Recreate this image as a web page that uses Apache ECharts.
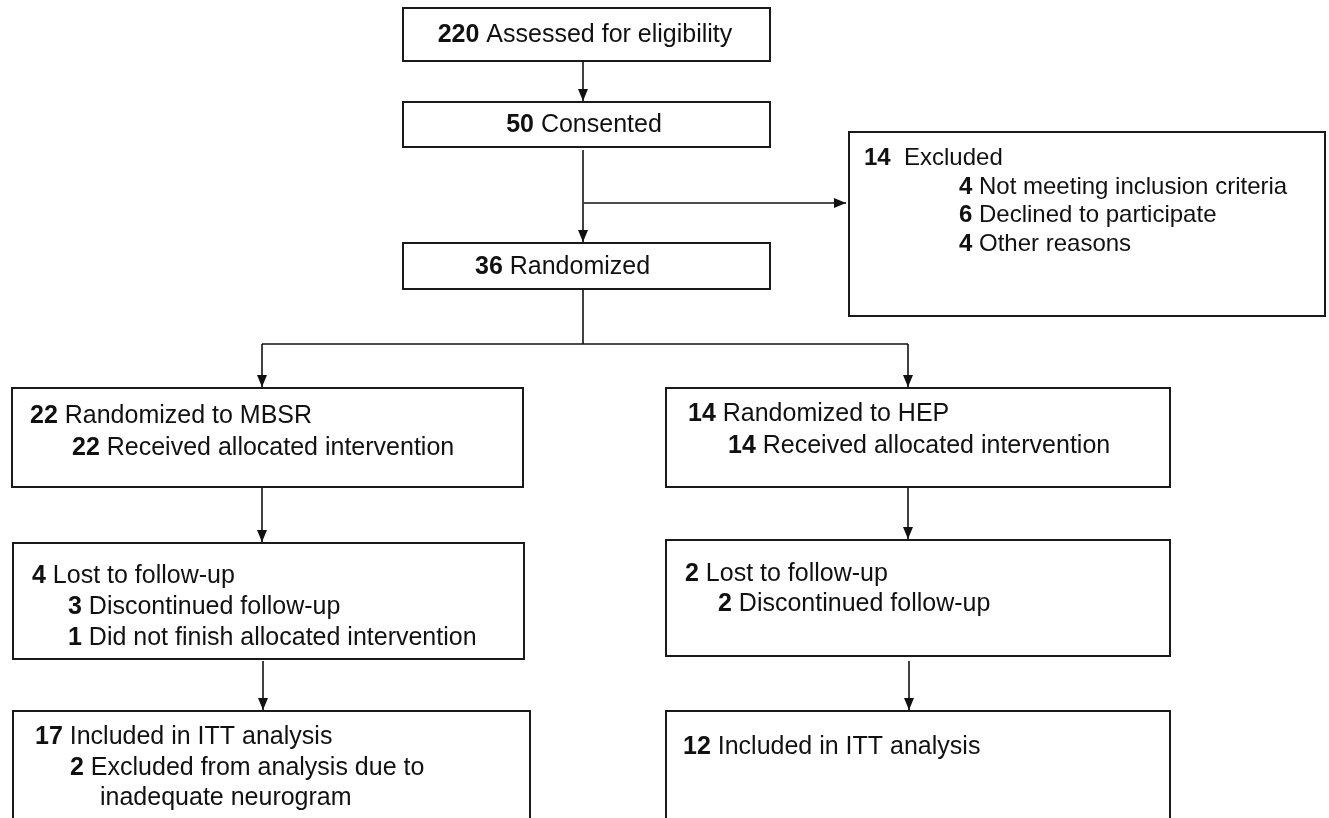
<!DOCTYPE html>
<html>
<head>
<meta charset="utf-8">
<title>Participant flow</title>
<script src="https://cdn.jsdelivr.net/npm/echarts@6/dist/echarts.min.js"></script>
<style>
  html, body { margin: 0; padding: 0; background: #fff; }
  #chart { width: 1329px; height: 818px; }
</style>
</head>
<body>
<div id="chart"></div>
<script>
// counts and labels shown in the flow diagram
const lineCounts = [220, 50, 36, 14, 4, 6, 4, 22, 22, 14, 14, 4, 3, 1, 2, 2, 17, 2, null, 12];
const lineTexts = [
  'Assessed for eligibility', 'Consented', 'Randomized',
  ' Excluded', 'Not meeting inclusion criteria', 'Declined to participate', 'Other reasons',
  'Randomized to MBSR', 'Received allocated intervention',
  'Randomized to HEP', 'Received allocated intervention',
  'Lost to follow-up', 'Discontinued follow-up', 'Did not finish allocated intervention',
  'Lost to follow-up', 'Discontinued follow-up',
  'Included in ITT analysis', 'Excluded from analysis due to', 'inadequate neurogram',
  'Included in ITT analysis'
];

// layout (diagram units = pixels of the 1329x818 page): x, y, align, font size
const linePos = [
  [585, 35, 'center', 25], [584, 125, 'center', 25], [475, 267, 'left', 25],
  [864, 158, 'left', 24], [959, 187, 'left', 24], [959, 215, 'left', 24], [959, 244, 'left', 24],
  [30, 416, 'left', 25], [72, 448, 'left', 25],
  [688, 414, 'left', 25], [728, 446, 'left', 25],
  [32, 576, 'left', 25], [68, 607, 'left', 25], [68, 638, 'left', 25],
  [685, 574, 'left', 25], [718, 604, 'left', 25],
  [35, 737, 'left', 25], [70, 768, 'left', 25], [100, 798, 'left', 25],
  [683, 747, 'left', 25]
];
const boxes = [
  [403, 8, 770, 61], [403, 102, 770, 147], [403, 243, 770, 289],
  [849, 132, 1325, 316],
  [12, 388, 523, 487], [666, 388, 1170, 487],
  [13, 543, 524, 659], [666, 540, 1170, 656],
  [13, 711, 530, 830], [666, 711, 1170, 830]
];
const arrows = [
  { pts: [[583, 61], [583, 101]], head: true },
  { pts: [[583, 150], [583, 242]], head: true },
  { pts: [[584, 203], [846, 203]], head: true },
  { pts: [[583, 290], [583, 344]], head: false },
  { pts: [[262, 344], [908, 344]], head: false },
  { pts: [[262, 344], [262, 387]], head: true },
  { pts: [[908, 344], [908, 387]], head: true },
  { pts: [[262, 488], [262, 542]], head: true },
  { pts: [[908, 488], [908, 539]], head: true },
  { pts: [[263, 661], [263, 710]], head: true },
  { pts: [[909, 661], [909, 710]], head: true }
];

const FONT = '"Liberation Sans", Arial, sans-serif';
const INK = '#111';

const chart = echarts.init(document.getElementById('chart'));

chart.setOption({
  animation: false,
  grid: { left: 0, right: 0, top: 0, bottom: 0 },
  xAxis: { type: 'value', min: 0, max: 1329, show: false },
  yAxis: { type: 'value', min: 0, max: 818, inverse: true, show: false },
  series: [
    {
      // boxes
      type: 'custom',
      data: boxes.map((b, i) => [i]),
      clip: false,
      silent: true,
      renderItem: (params, api) => {
        const b = boxes[api.value(0)];
        const p0 = api.coord([b[0], b[1]]);
        const p1 = api.coord([b[2], b[3]]);
        return {
          type: 'rect',
          shape: { x: p0[0], y: p0[1], width: p1[0] - p0[0], height: p1[1] - p0[1] },
          style: { fill: '#fff', stroke: '#1a1a1a', lineWidth: 2 }
        };
      }
    },
    {
      // arrows
      type: 'custom',
      data: arrows.map((a, i) => [i]),
      clip: false,
      silent: true,
      renderItem: (params, api) => {
        const a = arrows[api.value(0)];
        const pts = a.pts.map(p => api.coord(p));
        const children = [{
          type: 'polyline',
          shape: { points: pts },
          style: { stroke: INK, lineWidth: 1.6, fill: null }
        }];
        if (a.head) {
          const e = pts[pts.length - 1];
          const s = pts[pts.length - 2];
          const ang = Math.atan2(e[1] - s[1], e[0] - s[0]);
          const len = 12, half = 5;
          const bx = e[0] - len * Math.cos(ang), by = e[1] - len * Math.sin(ang);
          const nx = -Math.sin(ang) * half, ny = Math.cos(ang) * half;
          children.push({
            type: 'polygon',
            shape: { points: [e, [bx + nx, by + ny], [bx - nx, by - ny]] },
            style: { fill: INK }
          });
        }
        return { type: 'group', children };
      }
    },
    {
      // text lines
      type: 'custom',
      data: lineTexts.map((t, i) => [i]),
      clip: false,
      silent: true,
      z: 5,
      renderItem: (params, api) => {
        const i = api.value(0);
        const pos = linePos[i];
        const p = api.coord([pos[0], pos[1]]);
        const c = lineCounts[i];
        const txt = c === null ? lineTexts[i] : '{b|' + c + '} ' + lineTexts[i];
        return {
          type: 'text',
          x: p[0],
          y: p[1],
          style: {
            text: txt,
            fill: INK,
            fontSize: pos[3],
            fontFamily: FONT,
            align: pos[2],
            verticalAlign: 'middle',
            rich: {
              b: { fontWeight: 'bold', fontSize: pos[3], fontFamily: FONT, fill: INK }
            }
          }
        };
      }
    }
  ]
});
</script>
</body>
</html>
